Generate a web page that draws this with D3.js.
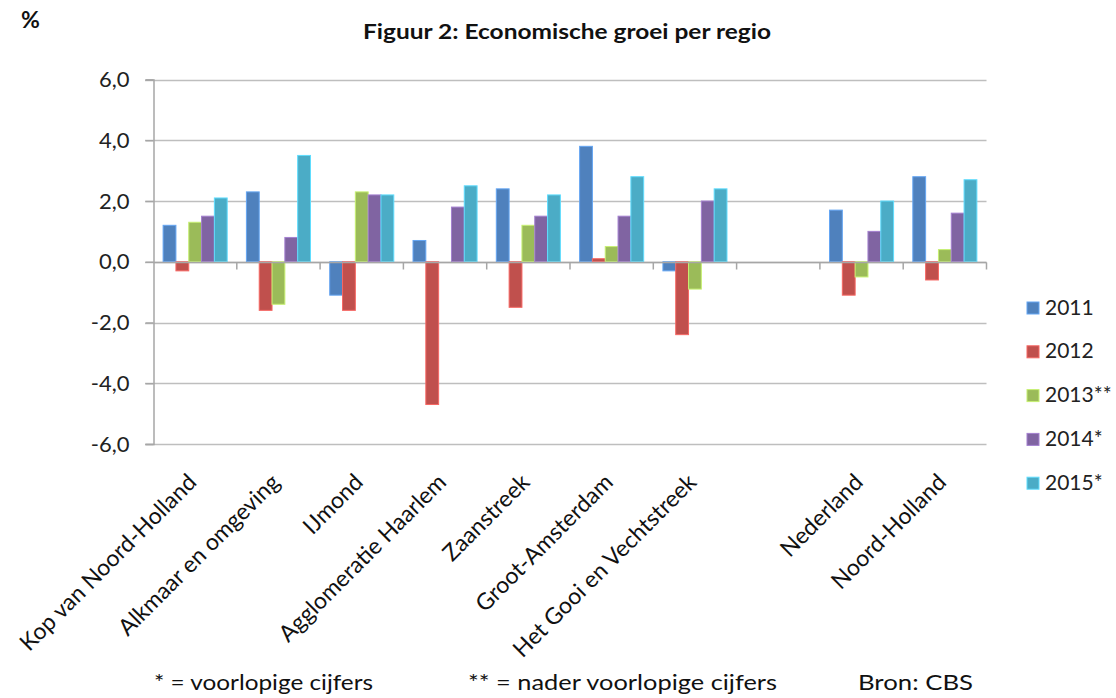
<!DOCTYPE html>
<html>
<head>
<meta charset="utf-8">
<script src="https://cdn.jsdelivr.net/npm/d3@7"></script>
<style>
  body { margin: 0; background: #fff; }
  svg { font-family: Lato, "Open Sans", sans-serif; }
</style>
</head>
<body>
<div id="chart"></div>
<script>

// categories (empty slot between Gooi and Nederland like in the original)
var categories = ['Kop van Noord-Holland', 'Alkmaar en omgeving', 'IJmond',
    'Agglomeratie Haarlem', 'Zaanstreek', 'Groot-Amsterdam',
    'Het Gooi en Vechtstreek', '', 'Nederland', 'Noord-Holland']

var series = ['2011', '2012', '2013**', '2014*', '2015*']

var v2011 = [1.2, 2.3, -1.1, 0.7, 2.4, 3.8, -0.3, null, 1.7, 2.8]
var v2012 = [-0.3, -1.6, -1.6, -4.7, -1.5, 0.1, -2.4, null, -1.1, -0.6]
var v2013 = [1.3, -1.4, 2.3, 0.0, 1.2, 0.5, -0.9, null, -0.5, 0.4]
var v2014 = [1.5, 0.8, 2.2, 1.8, 1.5, 1.5, 2.0, null, 1.0, 1.6]
var v2015 = [2.1, 3.5, 2.2, 2.5, 2.2, 2.8, 2.4, null, 2.0, 2.7]

var yTicks = [-6, -4, -2, 0, 2, 4, 6]

var colors = ['#4F81BD', '#C0504D', '#9BBB59', '#8064A2', '#4BACC6']

var allValues = [v2011, v2012, v2013, v2014, v2015]

var W = 1116, H = 698
var svg = d3.select('#chart').append('svg')
    .attr('width', W).attr('height', H)

var x = d3.scaleBand()
    .domain(d3.range(categories.length))
    .range([153.5, 986.5])
    .padding(0)

var xs = d3.scaleBand()
    .domain(series)
    .range([0, x.bandwidth()])
    .paddingInner(0)
    .paddingOuter(0.75)

var y = d3.scaleLinear().domain([-6, 6]).range([444, 79.5])

// gridlines
svg.append('g')
    .selectAll('line')
    .data(yTicks)
    .enter()
    .append('line')
    .attr('x1', 145).attr('x2', 986.5)
    .attr('y1', d => Math.round(y(d)) + 0.5)
    .attr('y2', d => Math.round(y(d)) + 0.5)
    .style('stroke', '#BEBEBE')
    .style('stroke-width', 1.5)

// y axis
var yAxis = svg.append('g')
    .attr('transform', 'translate(153.5,0)')
    .call(d3.axisLeft(y).tickValues(yTicks).tickSize(8)
        .tickFormat(d => d3.format('.1f')(d).replace('.', ',').replace('−', '-')))
yAxis.select('.domain').style('stroke', '#A6A6A6').style('stroke-width', 1.5)
yAxis.selectAll('.tick line').style('stroke', '#A6A6A6').style('stroke-width', 1.5)
yAxis.selectAll('.tick text')
    .attr('x', -24)
    .style('font-size', '22px')
    .style('fill', '#222')
    .style('font-family', 'Lato')

// bars
var groups = svg.append('g')
    .selectAll('g')
    .data(series)
    .enter()
    .append('g')
    .style('fill', (d, i) => colors[i])

groups.selectAll('rect')
    .data(function (s, si) {
        return allValues[si].map(function (v, ci) { return {s: s, si: si, ci: ci, v: v} })
            .filter(d => d.v !== null && d.v !== 0)
    })
    .enter()
    .append('rect')
    .attr('x', d => x(d.ci) + xs(d.s))
    .attr('width', xs.bandwidth())
    .attr('y', d => y(Math.max(0, d.v)))
    .attr('height', d => Math.abs(y(d.v) - y(0)))
    .style('stroke', d => d3.color(colors[d.si]).brighter(0.7))
    .style('stroke-width', 1)

// category axis at zero
var zy = Math.round(y(0)) + 0.5
svg.append('line')
    .attr('x1', 153.5).attr('x2', 986.5)
    .attr('y1', zy).attr('y2', zy)
    .style('stroke', '#A6A6A6').style('stroke-width', 1.5)

svg.append('g')
    .selectAll('line')
    .data(d3.range(1, categories.length + 1))
    .enter()
    .append('line')
    .attr('x1', d => 153.5 + d * x.step())
    .attr('x2', d => 153.5 + d * x.step())
    .attr('y1', zy).attr('y2', zy + 7)
    .style('stroke', '#A6A6A6').style('stroke-width', 1.5)

// category labels
svg.append('g')
    .selectAll('text')
    .data(categories)
    .enter()
    .append('text')
    .attr('transform', (d, i) => 'translate(' + (x(i) + x.bandwidth() / 2 - 3) + ',478) rotate(-45)')
    .attr('dy', '0.35em')
    .attr('text-anchor', 'end')
    .style('font-size', '23px')
    .style('fill', '#111')
    .text(d => d)

// legend
var legend = svg.append('g')
    .selectAll('g')
    .data(series)
    .enter()
    .append('g')
    .attr('transform', (d, i) => 'translate(1027,' + (302 + i * 43.8) + ')')

legend.append('rect')
    .attr('width', 12).attr('height', 12)
    .style('fill', (d, i) => colors[i])
    .style('stroke', (d, i) => d3.color(colors[i]).brighter(0.7))

legend.append('text')
    .attr('x', 18).attr('y', 12.5)
    .style('font-size', '21px')
    .style('fill', '#222')
    .text(d => d)

// title and unit
svg.append('text')
    .attr('x', 567).attr('y', 38.5)
    .attr('text-anchor', 'middle')
    .attr('textLength', 408)
    .attr('lengthAdjust', 'spacingAndGlyphs')
    .style('font-size', '21px')
    .style('font-weight', 'bold')
    .style('fill', '#111')
    .text('Figuur 2: Economische groei per regio')

svg.append('text')
    .attr('x', 21).attr('y', 28)
    .style('font-size', '23px')
    .style('font-weight', 'bold')
    .style('fill', '#111')
    .text('%')

// footer notes
var notes = ['* = voorlopige cijfers', '** = nader voorlopige cijfers', 'Bron: CBS']
var notesX = [154, 468, 858]
var notesW = [219, 309, 115]

svg.append('g')
    .selectAll('text')
    .data(notes)
    .enter()
    .append('text')
    .attr('x', (d, i) => notesX[i])
    .attr('y', 690)
    .attr('textLength', (d, i) => notesW[i])
    .attr('lengthAdjust', 'spacingAndGlyphs')
    .style('font-size', '22px')
    .style('fill', '#111')
    .text(d => d)

</script>
</body>
</html>
